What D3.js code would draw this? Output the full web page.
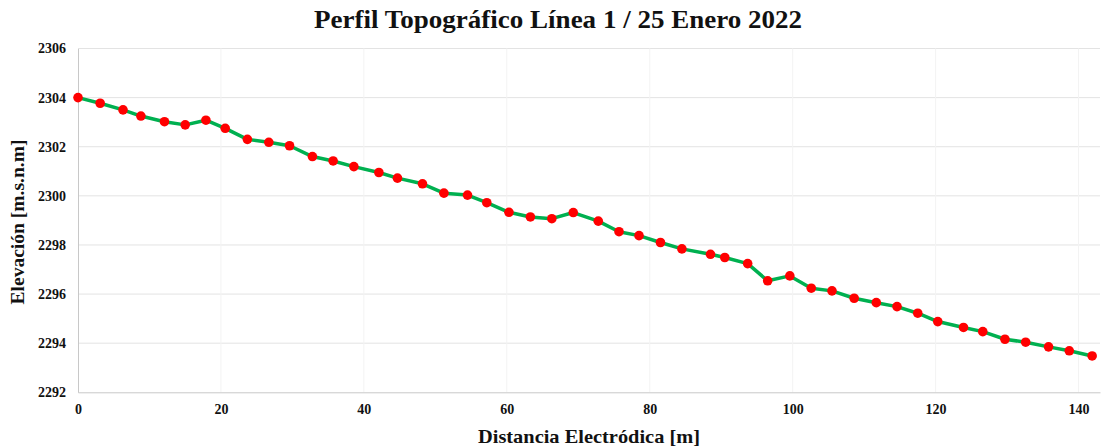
<!DOCTYPE html>
<html>
<head>
<meta charset="utf-8">
<script src="https://cdn.jsdelivr.net/npm/d3@7"></script>
<style>
  html, body { margin: 0; padding: 0; background: #fff; }
  svg text { font-family: "Liberation Serif", "Times New Roman", serif; font-weight: bold; fill: #111; }
</style>
</head>
<body>
<svg id="chart" width="1117" height="448"></svg>
<script>
const distancia = [0, 3.1, 6.3, 8.8, 12.1, 15.0, 17.9, 20.6, 23.7, 26.7, 29.6, 32.8, 35.7, 38.6, 42.1, 44.7, 48.2, 51.2, 54.5, 57.2, 60.3, 63.3, 66.3, 69.3, 72.8, 75.7, 78.5, 81.5, 84.5, 88.5, 90.5, 93.7, 96.5, 99.6, 102.6, 105.5, 108.6, 111.7, 114.6, 117.5, 120.3, 123.9, 126.6, 129.7, 132.6, 135.8, 138.7, 141.9];
const elevacion = [2304.00, 2303.77, 2303.50, 2303.25, 2303.02, 2302.89, 2303.08, 2302.75, 2302.30, 2302.18, 2302.04, 2301.60, 2301.42, 2301.19, 2300.95, 2300.72, 2300.49, 2300.11, 2300.03, 2299.72, 2299.33, 2299.14, 2299.07, 2299.32, 2298.97, 2298.54, 2298.38, 2298.10, 2297.84, 2297.62, 2297.49, 2297.24, 2296.54, 2296.74, 2296.24, 2296.13, 2295.83, 2295.65, 2295.49, 2295.22, 2294.88, 2294.64, 2294.47, 2294.16, 2294.04, 2293.85, 2293.69, 2293.48];
const xTicks = [0, 20, 40, 60, 80, 100, 120, 140];
const yTicks = [2292, 2294, 2296, 2298, 2300, 2302, 2304, 2306];
const titulo = "Perfil Topográfico Línea 1 / 25 Enero 2022";
const tituloX = "Distancia Electródica [m]";
const tituloY = "Elevación [m.s.n.m]";

const svg = d3.select("#chart");
const mLeft = 78, mRight = 1100, mTop = 48.5, mBottom = 392.3;

const x = d3.scaleLinear().domain([0, 143]).range([mLeft, mRight]);
const y = d3.scaleLinear().domain([2292, 2306]).range([mBottom, mTop]);

// gridlines
const grid = svg.append("g");
grid.selectAll("line.h").data(yTicks.slice(1)).join("line")
  .attr("x1", mLeft).attr("x2", mRight)
  .attr("y1", d => y(d)).attr("y2", d => y(d))
  .attr("stroke", "#e3e3e3").attr("stroke-width", 1);
grid.selectAll("line.v").data(xTicks.slice(1)).join("line")
  .attr("x1", d => x(d)).attr("x2", d => x(d))
  .attr("y1", mTop).attr("y2", mBottom)
  .attr("stroke", "#f3f3f3").attr("stroke-width", 1);

// axes
const xAxis = svg.append("g").attr("transform", `translate(0,${mBottom})`)
  .call(d3.axisBottom(x).tickValues(xTicks).tickFormat(d3.format("d")).tickSize(0).tickPadding(12));
xAxis.select(".domain").attr("stroke", "#c8c8c8");
xAxis.selectAll("text").style("font-size", "14px");

const yAxis = svg.append("g").attr("transform", `translate(${mLeft},0)`)
  .call(d3.axisLeft(y).tickValues(yTicks).tickFormat(d3.format("d")).tickSize(0).tickPadding(12));
yAxis.select(".domain").attr("stroke", "#c8c8c8");
yAxis.selectAll("text").style("font-size", "14px");

// line
const data = distancia.map((d, i) => [d, elevacion[i]]);
svg.append("path").datum(data)
  .attr("fill", "none").attr("stroke", "#00b050").attr("stroke-width", 3.5)
  .attr("stroke-linejoin", "round")
  .attr("d", d3.line().x(d => x(d[0])).y(d => y(d[1])));

svg.append("g").selectAll("circle").data(data).join("circle")
  .attr("cx", d => x(d[0])).attr("cy", d => y(d[1])).attr("r", 4.8)
  .attr("fill", "#ff0000");

// titles
svg.append("text").attr("x", 558).attr("y", 28).attr("text-anchor", "middle")
  .attr("textLength", 488).attr("lengthAdjust", "spacingAndGlyphs")
  .style("font-size", "25px").text(titulo);
svg.append("text").attr("x", 589).attr("y", 443).attr("text-anchor", "middle")
  .attr("textLength", 222).attr("lengthAdjust", "spacingAndGlyphs")
  .style("font-size", "19px").text(tituloX);
svg.append("text").attr("transform", "translate(24,222) rotate(-90)").attr("text-anchor", "middle")
  .attr("textLength", 165).attr("lengthAdjust", "spacingAndGlyphs")
  .style("font-size", "19px").text(tituloY);
</script>
</body>
</html>
